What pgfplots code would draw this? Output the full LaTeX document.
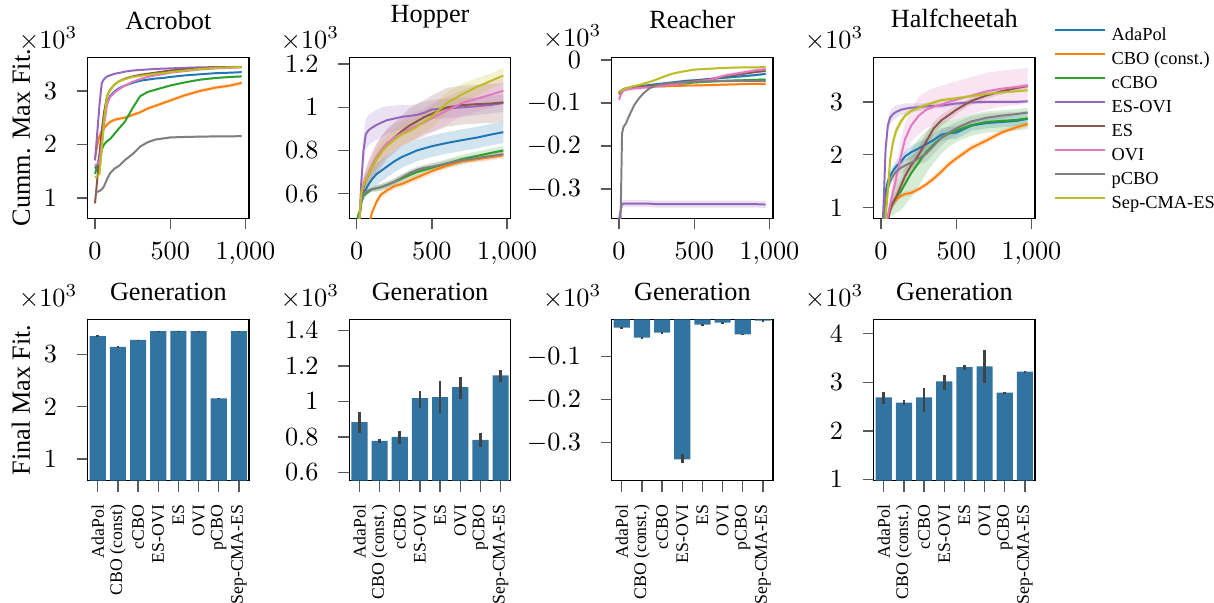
\documentclass[border=0pt]{standalone}
\usepackage[no-math]{fontspec}
\setmainfont{Liberation Serif}
\usepackage{pgfplots}
\usepackage{pgfplotstable}
\pgfplotsset{compat=1.18}
\usepgfplotslibrary{fillbetween}

\definecolor{cA}{HTML}{1F77B4}
\definecolor{cC}{HTML}{FF7F0E}
\definecolor{cG}{HTML}{2CA02C}
\definecolor{cEO}{HTML}{9467BD}
\definecolor{cE}{HTML}{8C564B}
\definecolor{cO}{HTML}{E377C2}
\definecolor{cP}{HTML}{7F7F7F}
\definecolor{cS}{HTML}{BCBD22}
\definecolor{barblue}{HTML}{3274A1}
\definecolor{errgray}{HTML}{424242}

% Acrobot (values x10^3)
\pgfplotstableread{
x A C G EO E O P S
0 1.55 1.75 1.45 1.70 0.90 1.60 1.10 1.38
10 1.60 1.90 1.55 2.05 1.20 1.63 1.11 1.40
20 1.65 2.05 1.65 2.40 1.50 1.65 1.12 1.42
30 1.80 2.15 1.75 2.75 1.80 1.68 1.13 1.45
45 2.20 2.25 1.90 3.15 2.25 2.00 1.16 1.90
60 2.50 2.30 2.00 3.22 2.60 2.35 1.22 2.45
80 2.78 2.37 2.06 3.27 2.90 2.75 1.35 2.90
100 2.90 2.42 2.10 3.29 3.02 2.88 1.46 3.02
130 2.99 2.46 2.20 3.32 3.12 2.97 1.55 3.12
160 3.05 2.48 2.30 3.335 3.18 3.03 1.60 3.18
200 3.10 2.50 2.43 3.36 3.23 3.10 1.71 3.22
250 3.15 2.55 2.68 3.38 3.27 3.17 1.82 3.26
300 3.19 2.60 2.90 3.39 3.30 3.22 1.96 3.28
350 3.21 2.67 2.98 3.40 3.32 3.26 2.04 3.30
400 3.23 2.72 3.02 3.41 3.34 3.29 2.09 3.32
450 3.24 2.77 3.06 3.415 3.36 3.31 2.11 3.33
500 3.26 2.82 3.10 3.42 3.38 3.34 2.13 3.35
600 3.29 2.92 3.16 3.43 3.40 3.37 2.14 3.38
700 3.31 3.00 3.21 3.44 3.42 3.40 2.145 3.41
800 3.33 3.06 3.24 3.443 3.44 3.42 2.15 3.43
900 3.34 3.10 3.26 3.445 3.445 3.43 2.15 3.44
975 3.35 3.15 3.27 3.446 3.45 3.44 2.155 3.445
}\tabAcro

% Hopper
\pgfplotstableread{
x A wA C wC G wG EO wEO E wE O wO P wP S wS
0 0.40 .01 0.20 .01 0.47 .01 0.40 .02 0.40 .02 0.40 .02 0.42 .01 0.40 .02
10 0.45 .01 0.22 .01 0.50 .01 0.44 .03 0.45 .02 0.45 .02 0.46 .01 0.45 .02
20 0.50 .02 0.25 .01 0.52 .01 0.50 .04 0.50 .03 0.50 .03 0.50 .01 0.50 .03
30 0.56 .02 0.28 .01 0.56 .01 0.65 .05 0.58 .03 0.60 .03 0.56 .01 0.60 .03
45 0.60 .03 0.32 .01 0.59 .01 0.80 .06 0.63 .04 0.645 .04 0.595 .01 0.64 .04
60 0.62 .03 0.35 .01 0.60 .01 0.875 .07 0.66 .05 0.67 .05 0.61 .01 0.66 .04
80 0.645 .04 0.45 .01 0.61 .01 0.895 .07 0.69 .06 0.70 .06 0.615 .01 0.69 .04
100 0.665 .04 0.51 .01 0.62 .01 0.905 .07 0.72 .06 0.73 .06 0.62 .01 0.72 .04
130 0.69 .05 0.56 .015 0.625 .015 0.918 .07 0.76 .07 0.77 .06 0.625 .015 0.76 .045
160 0.705 .05 0.595 .015 0.63 .015 0.928 .07 0.79 .07 0.80 .06 0.63 .015 0.79 .045
200 0.725 .05 0.615 .015 0.64 .015 0.94 .065 0.83 .07 0.833 .06 0.64 .015 0.82 .045
250 0.75 .05 0.635 .015 0.655 .015 0.948 .06 0.86 .07 0.86 .06 0.655 .015 0.85 .045
300 0.77 .05 0.645 .015 0.67 .02 0.956 .055 0.89 .07 0.88 .06 0.675 .015 0.875 .05
350 0.785 .05 0.66 .015 0.685 .02 0.96 .05 0.915 .08 0.90 .06 0.695 .015 0.89 .05
400 0.80 .05 0.675 .015 0.70 .02 0.965 .05 0.935 .08 0.915 .065 0.71 .015 0.91 .05
450 0.81 .05 0.69 .015 0.71 .02 0.975 .05 0.955 .08 0.93 .065 0.72 .015 0.935 .05
500 0.82 .05 0.705 .015 0.72 .02 0.99 .045 0.97 .085 0.95 .065 0.725 .015 0.957 .05
600 0.835 .05 0.73 .015 0.74 .02 0.995 .045 1.00 .09 0.985 .065 0.74 .015 1.02 .05
700 0.848 .05 0.75 .015 0.76 .02 1.00 .045 1.01 .09 1.02 .06 0.755 .015 1.06 .05
800 0.86 .05 0.76 .015 0.775 .02 1.005 .04 1.015 .09 1.04 .06 0.765 .015 1.095 .04
900 0.875 .05 0.77 .015 0.79 .02 1.012 .04 1.018 .09 1.06 .06 0.775 .015 1.125 .035
975 0.885 .05 0.778 .015 0.80 .02 1.02 .04 1.023 .09 1.077 .06 0.783 .015 1.147 .035
}\tabHop

% Reacher
\pgfplotstableread{
x A C G EO E O P S
0 -0.075 -0.080 -0.076 -0.370 -0.078 -0.092 -0.500 -0.075
10 -0.072 -0.075 -0.072 -0.350 -0.074 -0.082 -0.380 -0.072
20 -0.070 -0.072 -0.070 -0.335 -0.071 -0.075 -0.170 -0.070
30 -0.068 -0.070 -0.068 -0.334 -0.069 -0.071 -0.155 -0.068
45 -0.066 -0.068 -0.066 -0.334 -0.067 -0.069 -0.148 -0.066
60 -0.065 -0.067 -0.065 -0.334 -0.066 -0.068 -0.135 -0.064
80 -0.064 -0.065 -0.064 -0.334 -0.065 -0.067 -0.120 -0.062
100 -0.062 -0.064 -0.063 -0.334 -0.064 -0.066 -0.105 -0.060
130 -0.061 -0.063 -0.062 -0.334 -0.063 -0.065 -0.090 -0.058
160 -0.060 -0.062 -0.061 -0.334 -0.062 -0.064 -0.078 -0.055
200 -0.058 -0.062 -0.060 -0.334 -0.060 -0.063 -0.066 -0.051
250 -0.056 -0.061 -0.059 -0.335 -0.058 -0.061 -0.058 -0.045
300 -0.054 -0.061 -0.058 -0.335 -0.056 -0.059 -0.055 -0.038
350 -0.052 -0.060 -0.056 -0.335 -0.054 -0.057 -0.053 -0.032
400 -0.050 -0.060 -0.055 -0.335 -0.052 -0.055 -0.052 -0.028
450 -0.048 -0.059 -0.054 -0.335 -0.050 -0.052 -0.051 -0.025
500 -0.047 -0.059 -0.052 -0.335 -0.048 -0.050 -0.050 -0.022
600 -0.044 -0.058 -0.050 -0.335 -0.045 -0.046 -0.049 -0.020
700 -0.041 -0.057 -0.048 -0.335 -0.038 -0.036 -0.049 -0.018
800 -0.038 -0.056 -0.047 -0.335 -0.033 -0.030 -0.048 -0.017
900 -0.035 -0.055 -0.046 -0.335 -0.028 -0.024 -0.048 -0.017
975 -0.032 -0.055 -0.045 -0.336 -0.025 -0.021 -0.048 -0.016
}\tabReach

% Halfcheetah
\pgfplotstableread{
x A wA C wC G wG EO wEO E wE O wO P wP S wS
0 0.50 .05 0.50 .03 0.50 .05 0.50 .05 0.50 .05 0.50 .05 0.50 .05 0.50 .05
10 0.60 .05 0.52 .03 0.52 .05 0.60 .05 0.52 .05 0.52 .05 0.60 .05 0.55 .05
20 0.90 .08 0.55 .03 0.55 .05 1.30 .1 0.55 .05 0.55 .05 0.90 .08 0.60 .05
30 1.30 .1 0.60 .03 0.60 .05 2.10 .15 0.60 .05 0.60 .05 1.20 .1 0.80 .08
45 1.50 .1 0.80 .04 0.80 .1 2.55 .15 0.75 .1 0.85 .1 1.35 .1 1.30 .15
60 1.60 .1 0.98 .05 1.00 .15 2.70 .12 0.95 .1 1.05 .15 1.50 .1 1.90 .15
80 1.70 .1 1.08 .05 1.10 .25 2.77 .12 1.10 .1 1.30 .2 1.60 .1 2.25 .12
100 1.78 .1 1.15 .05 1.20 .3 2.81 .12 1.20 .12 1.55 .25 1.68 .1 2.45 .1
130 1.86 .1 1.22 .05 1.30 .35 2.85 .1 1.40 .15 1.95 .3 1.75 .1 2.62 .08
160 1.97 .1 1.26 .05 1.45 .4 2.87 .1 1.60 .15 2.30 .3 1.80 .12 2.74 .06
200 2.05 .12 1.28 .05 1.65 .45 2.89 .08 1.80 .15 2.55 .3 1.85 .12 2.83 .05
250 2.12 .12 1.35 .05 1.85 .45 2.90 .07 2.00 .15 2.74 .35 1.93 .12 2.89 .05
300 2.20 .12 1.44 .05 2.05 .4 2.915 .06 2.25 .15 2.85 .35 2.02 .15 2.94 .05
350 2.28 .12 1.55 .06 2.20 .35 2.925 .05 2.50 .12 2.91 .35 2.17 .15 2.99 .04
400 2.38 .12 1.68 .06 2.32 .3 2.93 .05 2.65 .1 2.95 .35 2.32 .15 3.03 .04
450 2.41 .12 1.82 .06 2.40 .25 2.95 .05 2.75 .1 3.00 .35 2.42 .12 3.05 .04
500 2.42 .12 1.93 .06 2.46 .22 2.97 .04 2.85 .08 3.04 .35 2.50 .12 3.07 .03
600 2.55 .1 2.13 .06 2.56 .2 2.99 .04 3.02 .07 3.12 .35 2.63 .1 3.11 .03
700 2.60 .1 2.27 .06 2.62 .2 3.00 .03 3.12 .06 3.20 .35 2.70 .08 3.15 .02
800 2.62 .1 2.42 .05 2.64 .2 3.00 .03 3.20 .06 3.25 .34 2.74 .06 3.18 .02
900 2.64 .1 2.52 .05 2.66 .2 3.00 .03 3.26 .05 3.28 .34 2.77 .04 3.20 .02
975 2.68 .1 2.58 .05 2.69 .2 3.01 .03 3.30 .05 3.31 .33 2.80 .03 3.22 .02
}\tabHalf

% Final max fitness bars: x y minus plus
\pgfplotstableread{
x y em ep
0 3.349 0.012 0.012
1 3.140 0.020 0.020
2 3.273 0.006 0.006
3 3.444 0.004 0.004
4 3.446 0.004 0.004
5 3.444 0.003 0.003
6 2.156 0.006 0.006
7 3.444 0.006 0.006
}\barAcro
\pgfplotstableread{
x y em ep
0 0.884 0.060 0.054
1 0.778 0.010 0.009
2 0.800 0.039 0.034
3 1.019 0.055 0.041
4 1.024 0.091 0.090
5 1.080 0.069 0.055
6 0.783 0.037 0.038
7 1.147 0.040 0.032
}\barHop
\pgfplotstableread{
x y em ep
0 -0.0323 0.002 0.002
1 -0.0556 0.002 0.002
2 -0.0440 0.002 0.002
3 -0.3390 0.008 0.013
4 -0.0253 0.002 0.002
5 -0.0206 0.002 0.002
6 -0.0479 0.002 0.002
7 -0.0160 0.001 0.001
}\barReach
\pgfplotstableread{
x y em ep
0 2.69 0.14 0.12
1 2.58 0.05 0.06
2 2.69 0.31 0.20
3 3.02 0.17 0.12
4 3.31 0.06 0.05
5 3.33 0.34 0.34
6 2.79 0.01 0.01
7 3.22 0.01 0.01
}\barHalf

% #1 table, #2 column, #3 band half-width (expression), #4 colour
\newcommand{\band}[4]{%
  \addplot[draw=none, forget plot, name path=u#2] table[x=x, y expr=\thisrow{#2}+#3] {#1};
  \addplot[draw=none, forget plot, name path=l#2] table[x=x, y expr=\thisrow{#2}-#3] {#1};
  \addplot[fill=#4, fill opacity=0.2, draw=none, forget plot] fill between[of=u#2 and l#2];
  \addplot[#4, line width=0.75pt, forget plot] table[x=x, y=#2] {#1};
}

\pgfplotsset{
  base/.style={scale only axis, width=61.45pt, height=61.4pt,
    scaled ticks=false,
    tick align=outside, tick pos=left, major tick length=4.2pt,
    major tick style={black!65, line width=0.5pt},
    axis line style={line width=0.45pt},
    yticklabel shift=4pt,
    ylabel style={at={(axis description cs:-0.3577,0.5)}, anchor=base},
  },
  lineax/.style={base, xmin=-48.75, xmax=1023.75, xtick={0,500,1000},
    xticklabel shift=1.5pt,
    xlabel={Generation},
    xlabel style={at={(axis description cs:0.5,0)}, anchor=base, yshift=-31.5pt},
    title style={at={(axis description cs:0.5,1)}, anchor=base},
    extra description/.code={\node[anchor=base east, inner sep=0pt] at (-0.061,1.054) {$\times10^{3}$};},
  },
  barax/.style={base, xmin=-0.5, xmax=7.5, xtick={0,...,7},
    xticklabels={AdaPol,CBO (const.),cCBO,ES-OVI,ES,OVI,pCBO,Sep-CMA-ES},
    xticklabel shift=1.6pt,
    xticklabel style={rotate=90, anchor=east, font=\fontsize{6.75}{8}\selectfont},
    extra description/.code={\node[anchor=base east, inner sep=0pt] at (-0.061,1.08) {$\times10^{3}$};},
  },
  barplot/.style={ybar, bar width=0.8, fill=barblue, draw=none,
    error bars/.cd, y dir=both, y explicit, error mark=none,
    error bar style={line width=1pt, errgray}},
}

\begin{document}
\begin{tikzpicture}

% ---------------- top row ----------------
\begin{axis}[lineax, at={(33.41pt,-83.17pt)}, anchor=south west,
  ymin=0.62, ymax=3.63, ytick={1,2,3},
  title={Acrobot}, title style={yshift=4.55pt},
  ylabel={Cumm. Max Fit.}]
  \band{\tabAcro}{A}{0.01}{cA}
  \band{\tabAcro}{C}{0.035}{cC}
  \band{\tabAcro}{G}{0.02}{cG}
  \band{\tabAcro}{EO}{0.01}{cEO}
  \band{\tabAcro}{E}{0.01}{cE}
  \band{\tabAcro}{O}{0.015}{cO}
  \band{\tabAcro}{P}{0.02}{cP}
  \band{\tabAcro}{S}{0.015}{cS}
\end{axis}

\begin{axis}[lineax, at={(133.12pt,-83.17pt)}, anchor=south west,
  ymin=0.486, ymax=1.2325, ytick={0.6,0.8,1,1.2},
  title={Hopper}, title style={yshift=7.2pt}]
  \band{\tabHop}{A}{\thisrow{wA}}{cA}
  \band{\tabHop}{C}{\thisrow{wC}}{cC}
  \band{\tabHop}{G}{\thisrow{wG}}{cG}
  \band{\tabHop}{EO}{\thisrow{wEO}}{cEO}
  \band{\tabHop}{E}{\thisrow{wE}}{cE}
  \band{\tabHop}{O}{\thisrow{wO}}{cO}
  \band{\tabHop}{P}{\thisrow{wP}}{cP}
  \band{\tabHop}{S}{\thisrow{wS}}{cS}
\end{axis}

\begin{axis}[lineax, at={(233.06pt,-83.17pt)}, anchor=south west,
  ymin=-0.368, ymax=0.007, ytick={-0.3,-0.2,-0.1,0},
  title={Reacher}, title style={yshift=5.05pt},
  extra description/.code={\node[anchor=base east, inner sep=0pt] at (-0.061,1.066) {$\times10^{3}$};}]
  \band{\tabReach}{A}{0.003}{cA}
  \band{\tabReach}{C}{0.003}{cC}
  \band{\tabReach}{G}{0.003}{cG}
  \band{\tabReach}{EO}{0.008}{cEO}
  \band{\tabReach}{E}{0.003}{cE}
  \band{\tabReach}{O}{0.004}{cO}
  \band{\tabReach}{P}{0.002}{cP}
  \band{\tabReach}{S}{0.002}{cS}
\end{axis}

\begin{axis}[lineax, at={(332.88pt,-83.17pt)}, anchor=south west,
  ymin=0.80, ymax=3.846, ytick={1,2,3},
  title={Halfcheetah}, title style={yshift=5.2pt},
  legend style={at={(axis description cs:1.1135,0.61)}, anchor=west,
    draw=none, fill=none, inner sep=0pt,
    font=\fontsize{7}{8.4}\selectfont, row sep=2.74pt, column sep=2.3pt,
    nodes={inner sep=0pt, text height=5pt, text depth=1.4pt}},
  legend cell align=left,
  legend image code/.code={\draw[#1, line width=0.75pt] (0pt,2.3pt) -- (19pt,2.3pt);}]
  \band{\tabHalf}{A}{\thisrow{wA}}{cA}
  \band{\tabHalf}{C}{\thisrow{wC}}{cC}
  \band{\tabHalf}{G}{\thisrow{wG}}{cG}
  \band{\tabHalf}{EO}{\thisrow{wEO}}{cEO}
  \band{\tabHalf}{E}{\thisrow{wE}}{cE}
  \band{\tabHalf}{O}{\thisrow{wO}}{cO}
  \band{\tabHalf}{P}{\thisrow{wP}}{cP}
  \band{\tabHalf}{S}{\thisrow{wS}}{cS}
  \addlegendimage{cA}\addlegendentry{AdaPol}
  \addlegendimage{cC}\addlegendentry{CBO (const.)}
  \addlegendimage{cG}\addlegendentry{cCBO}
  \addlegendimage{cEO}\addlegendentry{ES-OVI}
  \addlegendimage{cE}\addlegendentry{ES}
  \addlegendimage{cO}\addlegendentry{OVI}
  \addlegendimage{cP}\addlegendentry{pCBO}
  \addlegendimage{cS}\addlegendentry{Sep-CMA-ES}
\end{axis}

% ---------------- bottom row ----------------
\begin{axis}[barax, at={(33.41pt,-183.07pt)}, anchor=south west,
  xticklabels={AdaPol,CBO (const),cCBO,ES-OVI,ES,OVI,pCBO,Sep-CMA-ES},
  ymin=0.59, ymax=3.667, ytick={1,2,3},
  ylabel={Final Max Fit.}]
  \addplot[barplot] table[x=x, y=y, y error minus=em, y error plus=ep] {\barAcro};
\end{axis}

\begin{axis}[barax, at={(133.12pt,-183.07pt)}, anchor=south west,
  ymin=0.555, ymax=1.462, ytick={0.6,0.8,1,1.2,1.4}]
  \addplot[barplot] table[x=x, y=y, y error minus=em, y error plus=ep] {\barHop};
\end{axis}

\begin{axis}[barax, at={(233.06pt,-183.07pt)}, anchor=south west,
  ymin=-0.388, ymax=-0.0128, ytick={-0.3,-0.2,-0.1}]
  \addplot[barplot] table[x=x, y=y, y error minus=em, y error plus=ep] {\barReach};
\end{axis}

\begin{axis}[barax, at={(332.88pt,-183.07pt)}, anchor=south west,
  ymin=0.98, ymax=4.295, ytick={1,2,3,4}]
  \addplot[barplot] table[x=x, y=y, y error minus=em, y error plus=ep] {\barHalf};
\end{axis}

\pgfresetboundingbox
\path[use as bounding box] (0pt,0pt) rectangle (462.53pt,-229.74pt);
\end{tikzpicture}
\end{document}
